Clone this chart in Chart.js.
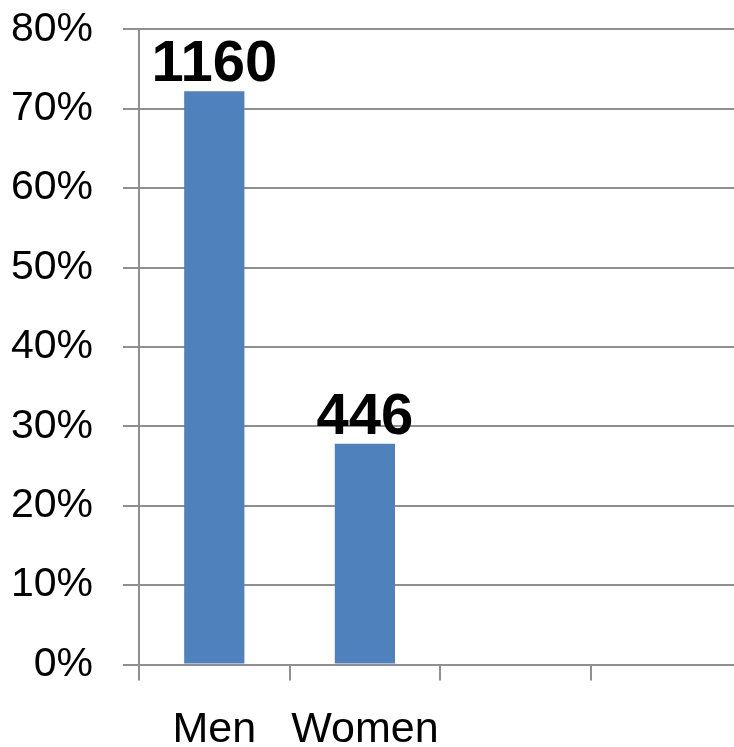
<!DOCTYPE html>
<html>
<head>
<meta charset="utf-8">
<script src="https://cdn.jsdelivr.net/npm/chart.js@4"></script>
<style>
html,body{margin:0;padding:0;background:#fff;overflow:hidden;}
#wrap{width:750px;height:747px;}
</style>
</head>
<body>
<div id="wrap"><canvas id="c" width="750" height="747"></canvas></div>
<script>
const categories = ['Men', 'Women', '', ''];
const percentValues = [72.2, 27.8, null, null];
const countLabels = ['1160', '446', '', ''];
const yTickMax = 80;
const yTickStep = 10;

const gridColor = '#8f8f8f';
const FONT = "'Liberation Sans', Arial, sans-serif";

const barLabels = {
  id: 'barLabels',
  afterDatasetsDraw(chart) {
    const ctx = chart.ctx;
    const meta = chart.getDatasetMeta(0);
    ctx.save();
    ctx.font = 'bold 58px ' + FONT;
    ctx.fillStyle = '#000';
    ctx.textAlign = 'center';
    ctx.textBaseline = 'alphabetic';
    meta.data.forEach((bar, i) => {
      if (percentValues[i] == null) return;
      ctx.fillText(countLabels[i], bar.x, bar.y - 10);
    });
    ctx.restore();
  }
};

new Chart(document.getElementById('c'), {
  type: 'bar',
  data: {
    labels: categories,
    datasets: [{
      data: percentValues,
      backgroundColor: '#4f81bd',
      borderWidth: 0,
      categoryPercentage: 1.0,
      barPercentage: 0.4
    }]
  },
  options: {
    responsive: false,
    animation: false,
    layout: { padding: { top: 29.3, right: 8.6, left: 0, bottom: 0 } },
    plugins: { legend: { display: false }, tooltip: { enabled: false } },
    scales: {
      x: {
        grid: {
          display: true,
          drawOnChartArea: false,
          drawTicks: true,
          tickLength: 16,
          color: gridColor,
          lineWidth: 2,
          offset: true
        },
        border: { display: true, color: gridColor, width: 2 },
        ticks: {
          font: { family: FONT, size: 43 },
          color: '#000',
          padding: 24,
          maxRotation: 0,
          autoSkip: false
        },
        afterFit(scale) {
          scale.height = 82.5;
          scale.paddingLeft = 0;
          scale.paddingRight = 0;
        }
      },
      y: {
        min: 0,
        max: yTickMax,
        grid: {
          color: gridColor,
          lineWidth: 2,
          tickLength: 16,
          drawTicks: true
        },
        border: { display: true, color: gridColor, width: 2 },
        ticks: {
          stepSize: yTickStep,
          font: { family: FONT, size: 41 },
          color: '#000',
          padding: 30,
          callback: v => v + '%'
        },
        afterFit(scale) {
          scale.width = 139;
          scale.paddingTop = 0;
          scale.paddingBottom = 0;
        }
      }
    }
  },
  plugins: [barLabels]
});
</script>
</body>
</html>
